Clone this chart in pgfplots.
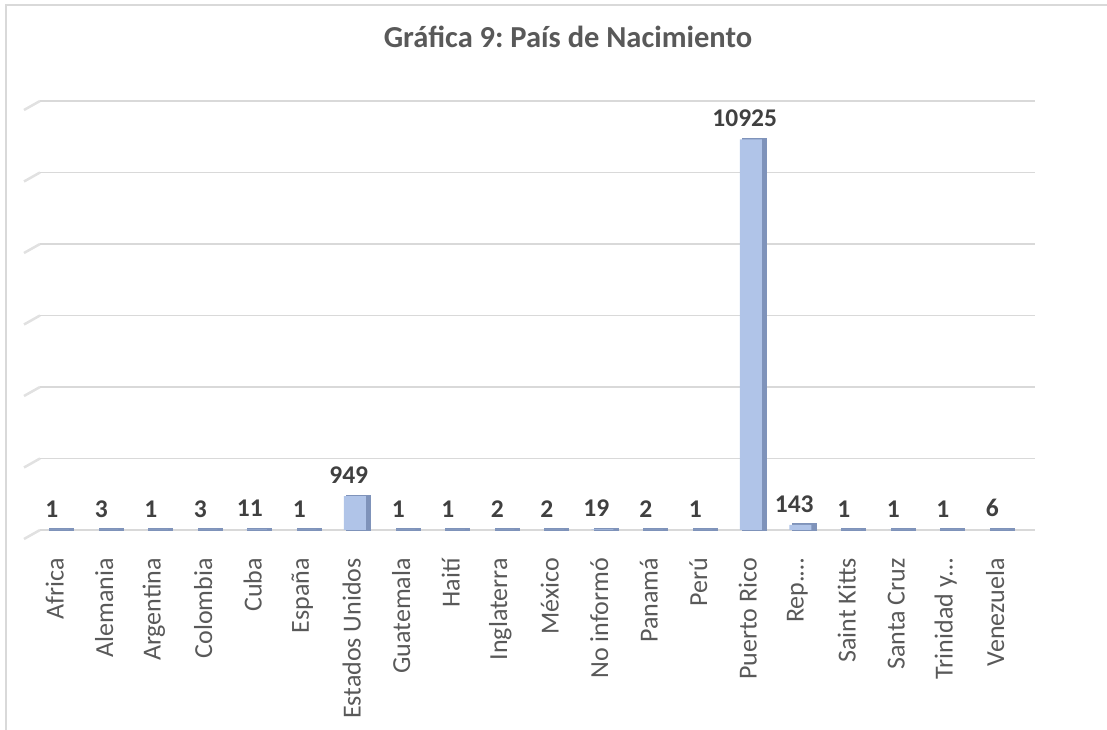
\documentclass[border=0pt]{standalone}
\usepackage{pgfplots}
\pgfplotsset{compat=1.18}
\usepackage{fontspec}
\setmainfont{Carlito}
\frenchspacing
\definecolor{barfront}{HTML}{B0C4E8}
\definecolor{barside}{HTML}{7F93BA}
\definecolor{txtgray}{HTML}{595959}
\definecolor{lblgray}{HTML}{404040}
\definecolor{gridc}{HTML}{D9D9D9}
\begin{document}
\begin{tikzpicture}[x=1bp,y=1bp]
\path[use as bounding box] (0,0) rectangle (1107,730);
\draw[gridc, line width=1.2bp] (6,0) -- (6,725) -- (1107,725);
\node[anchor=base, text=txtgray, font=\bfseries\fontsize{30.5bp}{36bp}\selectfont] at (568,682) {Gráfica 9: País de Nacimiento};
\foreach \k in {0,...,6} {
  \draw[gridc!80, line width=2.5bp] (24,{200+\k*71.5-9}) -- (40,{200+\k*71.5});
}
\begin{axis}[
  at={(40bp,200bp)}, anchor=south west,
  scale only axis, width=995bp, height=429bp,
  xmin=-0.298, xmax=19.803, ymin=0, ymax=12000,
  clip=false,
  axis line style={draw=none},
  major tick length=0pt,
  scaled y ticks=false,
  ytick={0,2000,...,12000}, yticklabels={},
  ymajorgrids, grid style={gridc, line width=1.5bp},
  xtick={0,...,19},
  xticklabels={Africa,Alemania,Argentina,Colombia,Cuba,España,Estados Unidos,Guatemala,Haití,Inglaterra,México,No informó,Panamá,Perú,Puerto Rico,Rep.…,Saint Kitts,Santa Cruz,Trinidad y…,Venezuela},
  xticklabel style={rotate=90, anchor=east, inner sep=0pt, font=\fontsize{26bp}{30bp}\selectfont, text=txtgray},
  xticklabel shift=28bp,
  /pgf/number format/1000 sep={},
  /pgf/number format/assume math mode=true,
]
\addplot[ybar, bar width=22bp, bar shift=7bp, fill=barside, draw=barside, line width=3bp] coordinates {
(0,1) (1,3) (2,1) (3,3) (4,11) (5,1) (6,949) (7,1) (8,1) (9,2) (10,2) (11,19) (12,2) (13,1) (14,10925) (15,143) (16,1) (17,1) (18,1) (19,6)};
\addplot[ybar, bar width=22bp, bar shift=3bp, fill=barfront, draw=none,
  nodes near coords,
  every node near coord/.append style={anchor=south, inner sep=0pt, yshift=12.5bp, font=\bfseries\fontsize{25.5bp}{30bp}\selectfont, text=lblgray, xshift=-3bp}] coordinates {
(0,1) (1,3) (2,1) (3,3) (4,11) (5,1) (6,949) (7,1) (8,1) (9,2) (10,2) (11,19) (12,2) (13,1) (14,10925) (15,143) (16,1) (17,1) (18,1) (19,6)};
\end{axis}
\end{tikzpicture}
\end{document}
